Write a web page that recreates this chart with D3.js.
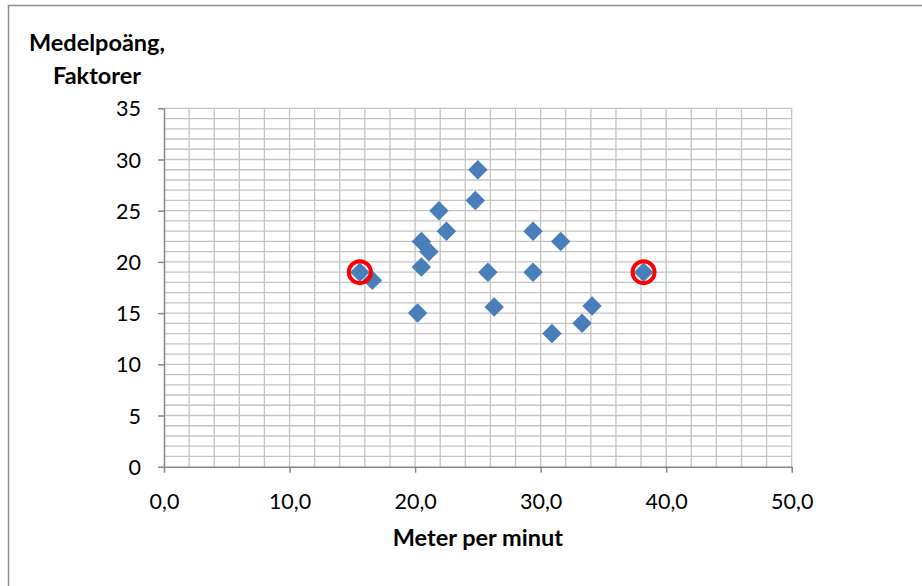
<!DOCTYPE html>
<html>
<head>
<meta charset="utf-8">
<script src="https://cdn.jsdelivr.net/npm/d3@7"></script>
<style>
  html, body { margin: 0; padding: 0; background: #fff; }
  svg { display: block; font-family: Lato, "Open Sans", sans-serif; }
</style>
</head>
<body>
<svg id="chart" width="922" height="586"></svg>
<script>
// Data
const xValues = [15.6, 16.6, 20.5, 21.1, 20.5, 20.2, 21.9, 22.5, 25.0, 24.8, 25.8, 26.3, 29.4, 29.4, 31.6, 30.9, 33.3, 34.1, 38.2];
const yValues = [19.0, 18.2, 22.0, 21.0, 19.5, 15.0, 25.0, 23.0, 29.0, 26.0, 19.0, 15.6, 23.0, 19.0, 22.0, 13.0, 14.0, 15.7, 19.0];
const highlighted = [0, 18];
const xTicks = [0, 10, 20, 30, 40, 50];
const yTicks = [0, 5, 10, 15, 20, 25, 30, 35];
const xTitle = "Meter per minut";
const yTitleLines = ["Medelpoäng,", "Faktorer"];

const svg = d3.select("#chart");

// outer chart border
svg.append("rect").attr("x", 8.5).attr("y", 5.5).attr("width", 930).attr("height", 600)
  .attr("fill", "none").attr("stroke", "#8c8c8c").attr("stroke-width", 1.5);

const x = d3.scaleLinear().domain([0, 50]).range([164, 791.7]);
const y = d3.scaleLinear().domain([0, 35]).range([466.7, 108.3]);

const grid = svg.append("g");
// horizontal gridlines every 1 unit
grid.selectAll("line.h").data(d3.range(1, 36)).join("line")
  .attr("x1", x(0)).attr("x2", x(50))
  .attr("y1", d => y(d)).attr("y2", d => y(d))
  .attr("stroke", "#c4c4c4").attr("stroke-width", 1.3);
// vertical gridlines every 2 units
grid.selectAll("line.v").data(d3.range(2, 51, 2)).join("line")
  .attr("x1", d => x(d)).attr("x2", d => x(d))
  .attr("y1", y(0)).attr("y2", y(35))
  .attr("stroke", "#c4c4c4").attr("stroke-width", 1.3);

const fmt = d => d.toFixed(1).replace(".", ",");

const xAxis = svg.append("g").attr("transform", `translate(0,${y(0)})`)
  .call(d3.axisBottom(x).tickValues(xTicks).tickFormat(fmt).tickSize(6).tickSizeOuter(0));
const yAxis = svg.append("g").attr("transform", `translate(${x(0)},0)`)
  .call(d3.axisLeft(y).tickValues(yTicks).tickFormat(d => d).tickSize(6).tickSizeOuter(0));

[xAxis, yAxis].forEach(g => {
  g.select(".domain").attr("stroke", "#868686").attr("stroke-width", 1.5);
  g.selectAll(".tick line").attr("stroke", "#868686").attr("stroke-width", 1.5);
  g.selectAll(".tick text").attr("fill", "#000").style("font-size", "21.5px")
    .style("font-family", "Lato, 'Open Sans', sans-serif");
});
xAxis.selectAll(".tick text").attr("dy", null).attr("y", 0)
  .attr("transform", "translate(0,42)");
yAxis.selectAll(".tick text").attr("x", -23).attr("dy", "0.35em");

// points
const pts = xValues.map((v, i) => ({ x: v, y: yValues[i] }));
const diamond = d3.symbol().type(d3.symbolSquare).size(190);
svg.append("g").selectAll("path").data(pts).join("path")
  .attr("d", diamond)
  .attr("transform", d => `translate(${x(d.x)},${y(d.y)}) rotate(45)`)
  .attr("fill", "#4a7ebb");

// highlighted circles
svg.append("g").selectAll("circle").data(highlighted.map(i => pts[i])).join("circle")
  .attr("cx", d => x(d.x)).attr("cy", d => y(d.y)).attr("r", 11)
  .attr("fill", "none").attr("stroke", "#ff0000").attr("stroke-width", 4);

// titles
svg.append("text").attr("x", (x(0) + x(50)) / 2).attr("y", 546)
  .attr("text-anchor", "middle").style("font-weight", "bold").style("font-size", "23.5px")
  .text(xTitle);
svg.append("text").attr("text-anchor", "middle").style("font-weight", "bold").style("font-size", "23.5px")
  .selectAll("tspan").data(yTitleLines).join("tspan")
  .attr("x", 97).attr("y", (d, i) => 51 + i * 33).text(d => d);
</script>
</body>
</html>
